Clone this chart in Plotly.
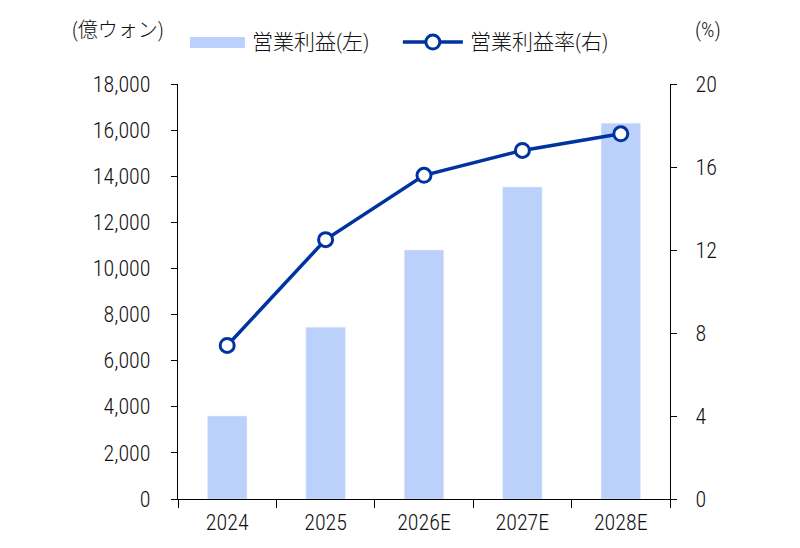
import plotly.graph_objects as go

years = ["2024", "2025", "2026E", "2027E", "2028E"]
op_profit = [3600, 7450, 10800, 13530, 16300]   # 億ウォン (left axis)
op_margin = [7.4, 12.5, 15.6, 16.8, 17.6]       # % (right axis)

font_main = "Roboto Condensed, Noto Sans CJK JP, sans-serif"
txt = "#111111"
bar_color = "#bbd0fb"
line_color = "#0033a0"
tick_font = dict(size=22, weight=300)

fig = go.Figure()
fig.add_trace(go.Bar(x=years, y=op_profit, name="営業利益(左)",
                     marker_color=bar_color, width=0.4))
fig.add_trace(go.Scatter(x=years, y=op_margin, name="営業利益率(右)", yaxis="y2",
                         mode="lines+markers",
                         line=dict(color=line_color, width=3.5),
                         marker=dict(size=14, color="white",
                                     line=dict(color=line_color, width=3))))

# page body has an 8px margin, so the figure is 8px smaller and the margins shifted
fig.update_layout(
    width=792, height=540,
    margin=dict(l=170, r=130, t=76, b=49, autoexpand=False),
    plot_bgcolor="white", paper_bgcolor="white",
    font=dict(family=font_main, size=21, color=txt),
    showlegend=False,
    xaxis=dict(showline=True, linecolor="black", linewidth=1.2,
               ticks="outside", tickson="boundaries", ticklen=8,
               tickcolor="black", showgrid=False, ticklabelstandoff=3,
               tickfont=tick_font),
    yaxis=dict(range=[0, 18000], dtick=2000, tickformat=",",
               showline=True, linecolor="black", linewidth=1.2,
               ticks="outside", ticklen=6, tickcolor="black",
               showgrid=False, zeroline=False, ticklabelstandoff=16,
               tickfont=tick_font),
    yaxis2=dict(range=[0, 20], dtick=4, overlaying="y", side="right",
                showline=True, linecolor="black", linewidth=1.2,
                ticks="outside", ticklen=6, tickcolor="black",
                showgrid=False, zeroline=False, ticklabelstandoff=14,
                tickfont=tick_font),
)

# axis unit labels
fig.add_annotation(text="(億ウォン)", xref="paper", yref="paper",
                   x=-0.2195, y=1.13, xanchor="left", yanchor="middle",
                   showarrow=False, font=dict(size=20, weight=300))
fig.add_annotation(text="(%)", xref="paper", yref="paper",
                   x=1.077, y=1.13, xanchor="center", yanchor="middle",
                   showarrow=False, font=dict(size=21, weight=300))

# hand-made legend
leg_y = 1.101
fig.add_shape(type="rect", xref="paper", yref="paper",
              x0=0.0244, x1=0.136, y0=1.0867, y1=1.1133,
              fillcolor=bar_color, line_width=0)
fig.add_annotation(text="営業利益(左)", xref="paper", yref="paper",
                   x=0.146, y=leg_y, xanchor="left", yanchor="middle",
                   showarrow=False, font=dict(size=21, weight=300))
fig.add_shape(type="line", xref="paper", yref="paper",
              x0=0.457, x1=0.579, y0=leg_y, y1=leg_y,
              line=dict(color=line_color, width=3.5))
fig.add_shape(type="circle", xref="paper", yref="paper",
              xsizemode="pixel", ysizemode="pixel",
              xanchor=0.518, yanchor=leg_y,
              x0=-7, x1=7, y0=-7, y1=7,
              fillcolor="white", line=dict(color=line_color, width=3))
fig.add_annotation(text="営業利益率(右)", xref="paper", yref="paper",
                   x=0.589, y=leg_y, xanchor="left", yanchor="middle",
                   showarrow=False, font=dict(size=21, weight=300))

fig.write_html("out.html")
